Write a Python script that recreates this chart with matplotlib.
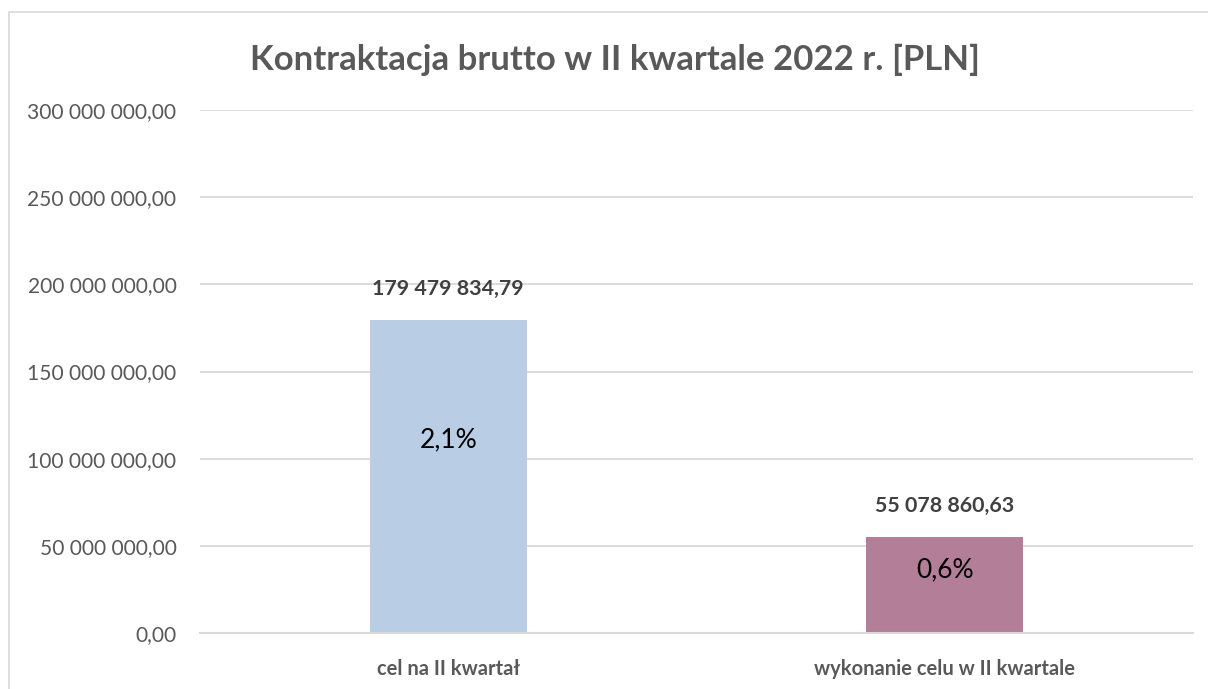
import matplotlib.pyplot as plt
from matplotlib.patches import Rectangle

categories = ["cel na II kwartał", "wykonanie celu w II kwartale"]
values = [179479834.79, 55078860.63]
value_labels = ["179 479 834,79", "55 078 860,63"]
pct_labels = ["2,1%", "0,6%"]
colors = ["#B9CDE5", "#B37E98"]
yticks = [0, 50e6, 100e6, 150e6, 200e6, 250e6, 300e6]
ytick_labels = ["0,00", "50 000 000,00", "100 000 000,00", "150 000 000,00",
                "200 000 000,00", "250 000 000,00", "300 000 000,00"]

plt.rcParams['font.family'] = ['Lato', 'DejaVu Sans']
grey = "#595959"

fig = plt.figure(figsize=(12.08, 6.89), dpi=100)
# outer chart frame (only top/left visible in the crop)
fig.patches.append(Rectangle((9 / 1208, -0.1), 2, (689 - 12) / 689 + 0.1,
                             transform=fig.transFigure, fill=False,
                             edgecolor="#D9D9D9", linewidth=1.2))

ax = fig.add_axes([200 / 1208, 1 - 633 / 689, 993 / 1208, (633 - 110) / 689])
x = range(len(categories))
bars = ax.bar(x, values, width=0.316, color=colors, zorder=3)

ax.set_xlim(-0.5, 1.5)
ax.set_ylim(0, 300e6)
ax.set_yticks(yticks)
ax.set_yticklabels(ytick_labels, fontsize=15.1, color=grey)
ax.set_xticks(list(x))
ax.set_xticklabels(categories, fontsize=14.5, fontweight="bold", color=grey)
ax.tick_params(axis="both", length=0)
ax.tick_params(axis="y", pad=17)
ax.tick_params(axis="x", pad=19)
ax.grid(axis="y", color="#D9D9D9", linewidth=1.3, zorder=0)
for s in ["top", "right", "left"]:
    ax.spines[s].set_visible(False)
ax.spines["bottom"].set_color("#D9D9D9")
ax.spines["bottom"].set_linewidth(1.5)
ax.spines["bottom"].set_zorder(4)

# value labels above bars
for b, lab in zip(bars, value_labels):
    ax.annotate(lab, (b.get_x() + b.get_width() / 2, b.get_height()),
                xytext=(0, 15), textcoords="offset points", ha="center",
                va="bottom", fontsize=15.4, fontweight="bold", color="#404040")

# percentage labels inside bars
pct_frac = [0.617, 0.655]
for b, lab, f in zip(bars, pct_labels, pct_frac):
    ax.text(b.get_x() + b.get_width() / 2, b.get_height() * f, lab,
            ha="center", va="center", fontsize=19, color="black", zorder=5)

fig.text(615 / 1208, 1 - 60 / 689, "Kontraktacja brutto w II kwartale 2022 r. [PLN]",
         ha="center", va="center", fontsize=25, fontweight="bold", color=grey)

fig.savefig("out.png", dpi=100)
